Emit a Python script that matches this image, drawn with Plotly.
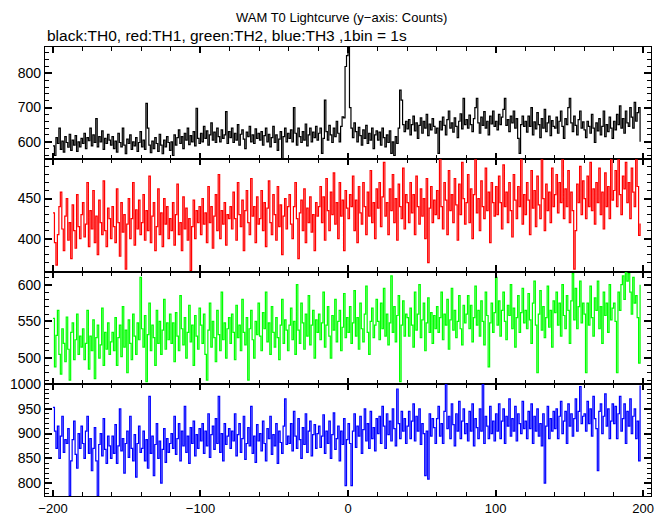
import plotly.graph_objects as go

# Counts per 1 s bin, time from -200 s
th0 = [
    588, 560, 612, 595, 640, 578, 602, 570, 615, 598, 584, 622, 575, 605, 590, 618, 572, 600, 585, 610,
    595, 625, 580, 612, 603, 640, 588, 620, 598, 668, 585, 615, 600, 632, 578, 610, 595, 622, 605, 590,
    615, 580, 602, 570, 625, 598, 585, 640, 590, 565, 608, 595, 620, 578, 600, 588, 612, 572, 598, 630,
    585, 605, 578, 712, 640, 590, 568, 602, 580, 612, 595, 572, 622, 590, 565, 605, 585, 615, 598, 575,
    600, 560, 620, 590, 612, 635, 595, 615, 580, 625, 605, 640, 592, 618, 600, 630, 588, 698, 610, 595,
    625, 600, 645, 610, 632, 590, 620, 655, 605, 628, 598, 640, 615, 600, 635, 610, 620, 688, 595, 630,
    612, 640, 598, 625, 605, 650, 590, 622, 635, 608, 580, 628, 615, 645, 600, 620, 595, 638, 610, 625,
    605, 630, 590, 618, 640, 600, 622, 585, 612, 645, 598, 620, 575, 608, 630, 550, 615, 640, 600, 625,
    610, 635, 600, 700, 625, 590, 640, 615, 598, 630, 605, 652, 588, 620, 640, 600, 628, 612, 645, 605,
    625, 640, 566, 610, 722, 630, 605, 648, 620, 598, 640, 615, 660, 625, 600, 645, 673, 670, 820, 852,
    890, 700, 640, 612, 655, 630, 600, 642, 618, 590, 635, 610, 648, 595, 625, 605, 640, 580, 620, 632,
    605, 628, 590, 640, 612, 585, 620, 598, 632, 566, 600, 560, 615, 595, 640, 751, 722, 650, 630, 660,
    638, 665, 620, 650, 675, 632, 655, 610, 648, 670, 625, 660, 640, 680, 618, 652, 635, 668, 645, 625,
    640, 566, 660, 635, 672, 648, 620, 665, 690, 640, 655, 628, 670, 645, 612, 660, 682, 638, 727, 650,
    665, 640, 678, 650, 630, 668, 700, 727, 655, 625, 672, 648, 688, 640, 660, 620, 675, 652, 690, 645,
    660, 635, 680, 650, 672, 695, 727, 648, 665, 630, 675, 655, 690, 640, 668, 610, 566, 650, 675, 645,
    660, 628, 675, 645, 700, 620, 658, 638, 685, 650, 612, 668, 640, 695, 630, 655, 675, 618, 662, 645,
    640, 672, 625, 660, 690, 645, 610, 668, 650, 700, 727, 655, 630, 675, 648, 620, 665, 690, 640, 658,
    635, 612, 660, 645, 625, 680, 640, 598, 655, 632, 668, 620, 645, 690, 615, 650, 630, 672, 640, 610,
    660, 635, 680, 650, 705, 640, 668, 625, 690, 655, 645, 700, 672, 640, 715, 660, 685, 700, 600,
]
th1 = [
    432, 395, 367, 405, 440, 458, 412, 385, 428, 450, 398, 420, 375, 442, 410, 388, 455, 415, 400, 430,
    445, 402, 418, 470, 390, 435, 412, 460, 395, 428, 380, 448, 420, 405, 472, 410, 390, 438, 425, 400,
    440, 415, 395, 462, 420, 378, 445, 408, 430, 362, 418, 450, 400, 425, 470, 392, 436, 412, 448, 405,
    420, 455, 398, 435, 410, 478, 395, 428, 445, 385, 415, 462, 405, 432, 390, 450, 418, 440, 400, 425,
    410, 445, 392, 430, 468, 405, 420, 385, 452, 412, 438, 398, 425, 360, 415, 448, 400, 435, 420, 440,
    405, 450, 418, 432, 395, 465, 420, 440, 388, 428, 455, 410, 480, 400, 435, 418, 445, 392, 430, 425,
    440, 412, 458, 425, 398, 470, 430, 415, 448, 385, 435, 460, 420, 405, 475, 428, 440, 395, 452, 418,
    425, 460, 410, 445, 390, 438, 472, 420, 405, 455, 430, 398, 465, 415, 442, 380, 428, 450, 412, 440,
    455, 418, 400, 440, 470, 425, 375, 432, 448, 410, 462, 395, 438, 420, 452, 408, 430, 385, 445, 428,
    440, 465, 420, 452, 398, 475, 435, 410, 458, 430, 482, 418, 445, 400, 470, 428, 448, 385, 460, 438,
    425, 455, 440, 478, 410, 448, 395, 465, 432, 418, 470, 440, 405, 458, 428, 485, 420, 445, 400, 462,
    438, 470, 415, 452, 495, 428, 445, 405, 462, 435, 480, 420, 450, 398, 468, 440, 425, 488, 412, 455,
    445, 420, 470, 432, 455, 405, 478, 440, 418, 462, 428, 450, 400, 475, 370, 438, 465, 420, 448, 430,
    460, 425, 499, 440, 412, 470, 448, 405, 485, 435, 455, 420, 475, 442, 398, 468, 430, 495, 450, 418,
    445, 480, 420, 462, 400, 455, 499, 432, 450, 410, 472, 440, 425, 488, 435, 458, 395, 470, 445, 428,
    465, 430, 478, 445, 412, 492, 440, 458, 420, 470, 435, 402, 480, 448, 425, 465, 440, 499, 418, 455,
    430, 470, 448, 405, 485, 438, 460, 415, 478, 442, 425, 499, 450, 410, 468, 435, 458, 420, 488, 440,
    455, 480, 432, 470, 445, 499, 425, 462, 440, 485, 420, 458, 435, 362, 410, 468, 445, 490, 430, 472,
    450, 425, 478, 440, 495, 435, 462, 418, 470, 445, 488, 430, 458, 412, 482, 440, 465, 425, 499, 448,
    460, 485, 440, 499, 455, 430, 478, 462, 495, 445, 470, 425, 488, 458, 440, 499, 465, 404, 419,
]
th2 = [
    554, 488, 531, 565, 505, 478, 540, 520, 495, 556, 512, 470, 535, 548, 498, 525, 560, 505, 530, 515,
    540, 498, 520, 565, 485, 530, 510, 552, 472, 528, 545, 500, 518, 568, 490, 535, 512, 548, 505, 522,
    535, 510, 555, 490, 528, 545, 502, 570, 515, 538, 480, 552, 520, 498, 560, 530, 505, 548, 525, 610,
    540, 515, 558, 468, 532, 575, 510, 545, 528, 490, 565, 520, 550, 505, 538, 580, 512, 548, 525, 560,
    520, 548, 495, 562, 530, 510, 585, 540, 518, 555, 500, 535, 572, 522, 545, 490, 558, 530, 512, 568,
    545, 520, 560, 505, 470, 538, 575, 515, 550, 528, 495, 565, 532, 510, 590, 525, 548, 500, 540, 555,
    520, 560, 535, 498, 572, 528, 545, 510, 580, 535, 518, 555, 470, 540, 565, 525, 500, 550, 532, 575,
    530, 510, 562, 540, 590, 522, 548, 505, 570, 535, 515, 555, 528, 498, 545, 580, 520, 552, 538, 510,
    545, 568, 525, 550, 505, 600, 538, 520, 575, 548, 512, 560, 530, 585, 518, 545, 565, 500, 552, 535,
    560, 525, 548, 590, 515, 545, 570, 530, 500, 558, 538, 580, 522, 550, 565, 510, 542, 588, 528, 555,
    535, 570, 520, 548, 592, 530, 555, 512, 575, 540, 522, 560, 598, 535, 505, 550, 568, 528, 545, 580,
    550, 525, 575, 540, 595, 530, 560, 518, 548, 612, 535, 570, 522, 558, 585, 468, 545, 578, 530, 560,
    555, 530, 568, 545, 515, 590, 538, 560, 600, 528, 552, 575, 510, 548, 582, 535, 562, 520, 558, 540,
    570, 535, 555, 590, 525, 560, 545, 580, 512, 552, 595, 538, 565, 528, 550, 585, 540, 518, 572, 548,
    560, 585, 540, 572, 522, 555, 598, 545, 565, 530, 578, 550, 518, 590, 558, 488, 548, 575, 535, 562,
    610, 545, 578, 530, 565, 590, 550, 525, 572, 558, 600, 540, 568, 515, 555, 585, 535, 562, 595, 548,
    565, 540, 588, 552, 520, 575, 605, 545, 480, 560, 592, 538, 570, 528, 555, 598, 542, 565, 515, 578,
    562, 590, 545, 575, 530, 600, 558, 540, 585, 565, 520, 578, 615, 552, 595, 540, 570, 605, 548, 575,
    560, 480, 575, 545, 598, 555, 530, 582, 565, 605, 540, 570, 520, 590, 558, 575, 535, 600, 552, 568,
    575, 550, 480, 590, 565, 600, 612, 580, 618, 605, 615, 590, 560, 610, 575, 585, 555, 493, 600,
]
th3 = [
    953, 905, 870, 915, 850, 895, 935, 862, 888, 880, 910, 775, 845, 888, 925, 858, 830, 900, 870, 915,
    880, 850, 905, 935, 860, 890, 825, 870, 912, 845, 774, 878, 900, 855, 930, 868, 840, 895, 875, 850,
    895, 860, 918, 840, 875, 950, 865, 890, 820, 880, 905, 852, 935, 870, 845, 898, 812, 880, 915, 862,
    870, 905, 845, 888, 830, 975, 860, 895, 815, 878, 920, 850, 885, 800, 868, 910, 842, 890, 862, 880,
    900, 870, 935, 858, 890, 920, 845, 905, 875, 955, 862, 895, 840, 912, 880, 925, 855, 898, 870, 910,
    885, 920, 860, 905, 875, 940, 852, 898, 915, 868, 930, 880, 975, 862, 900, 845, 920, 878, 895, 910,
    870, 905, 885, 940, 855, 898, 920, 862, 890, 935, 848, 880, 912, 875, 955, 860, 895, 842, 918, 885,
    900, 865, 925, 880, 845, 910, 890, 935, 858, 898, 875, 920, 840, 905, 882, 860, 915, 970, 878, 895,
    880, 920, 865, 945, 895, 870, 930, 888, 850, 912, 878, 940, 862, 905, 925, 855, 898, 918, 870, 900,
    915, 872, 895, 938, 860, 905, 880, 925, 850, 898, 942, 868, 890, 915, 845, 905, 878, 930, 795, 888,
    920, 880, 795, 905, 940, 872, 915, 895, 935, 860, 908, 950, 885, 920, 870, 945, 890, 912, 865, 930,
    900, 935, 880, 955, 915, 870, 940, 898, 925, 885, 950, 910, 875, 990, 920, 890, 945, 905, 930, 880,
    915, 945, 890, 925, 960, 885, 935, 905, 950, 878, 920, 900, 815, 905, 808, 940, 895, 930, 912, 880,
    930, 955, 895, 920, 880, 945, 1000, 910, 935, 890, 960, 918, 875, 940, 905, 965, 890, 925, 950, 900,
    920, 885, 945, 905, 960, 875, 930, 912, 890, 950, 905, 1000, 880, 935, 915, 890, 955, 900, 925, 885,
    940, 905, 960, 890, 925, 950, 880, 935, 915, 970, 895, 930, 905, 955, 885, 940, 920, 900, 965, 910,
    925, 890, 945, 910, 960, 880, 935, 905, 950, 895, 920, 875, 940, 800, 915, 955, 890, 930, 905, 945,
    910, 950, 890, 935, 965, 900, 925, 945, 880, 960, 915, 940, 895, 930, 970, 905, 945, 995, 920, 935,
    940, 905, 965, 920, 950, 895, 975, 930, 910, 825, 945, 960, 900, 935, 980, 915, 950, 890, 925, 960,
    920, 955, 890, 940, 975, 905, 930, 960, 880, 945, 915, 970, 900, 935, 950, 890, 925, 845, 997,
]

series = [th0, th1, th2, th3]
colors = ["#000000", "#ff0000", "#00ff00", "#0000ff"]
y_ranges = [[549, 877], [359, 499], [465, 618], [774, 1000.6]]
y_dticks = [100, 50, 50, 50]
y_minor = [20, 10, 10, 10]
x_range = [-205.4, 205.4]

FONT = "Liberation Sans, Arial, Helvetica, sans-serif"

fig = go.Figure()
n = len(series)
for i, vals in enumerate(series):
    t = [-200 + k for k in range(len(vals))]
    sfx = "" if i == 0 else str(i + 1)
    fig.add_trace(go.Scatter(
        x=t, y=vals, mode="lines", line=dict(color=colors[i], width=1.2, shape="hv"),
        xaxis="x" + sfx, yaxis="y" + sfx, showlegend=False, hoverinfo="skip",
    ))
    top = 1 - i / n
    bot = 1 - (i + 1) / n
    xa = dict(
        domain=[0, 1], range=x_range, anchor="y" + sfx,
        showline=True, linecolor="black", linewidth=1.2, mirror="ticks",
        ticks="inside", ticklen=6, tickwidth=1.5, tickcolor="black",
        dtick=100, tick0=0, showgrid=False, zeroline=False,
        showticklabels=(i == n - 1),
        tickfont=dict(family=FONT, size=13, color="black"),
        minor=dict(dtick=20, tick0=0, ticks="inside", ticklen=4, tickwidth=1, tickcolor="black", showgrid=False),
        automargin=False,
    )
    if i > 0:
        xa["matches"] = "x"
    ya = dict(
        domain=[bot, top], range=y_ranges[i], anchor="x" + sfx,
        showline=True, linecolor="black", linewidth=1.2, mirror="ticks",
        ticks="inside", ticklen=7, tickwidth=1.5, tickcolor="black",
        dtick=y_dticks[i], tick0=0, showgrid=False, zeroline=False,
        tickfont=dict(family=FONT, size=14, color="black"),
        minor=dict(dtick=y_minor[i], tick0=0, ticks="inside", ticklen=4, tickwidth=1, tickcolor="black", showgrid=False),
        automargin=False,
    )
    fig.layout["xaxis" + sfx] = xa
    fig.layout["yaxis" + sfx] = ya

# page body has an 8 px margin; the figure is sized to fill the rest of the window
OFF = 8
W, H = 669 - OFF, 515 - OFF
L, T = 45 - OFF, 47 - OFF
R = W - (651 - OFF)
B = H - (496 - OFF)
pw, ph = W - L - R, H - T - B

def px_to_paper(px, py):
    # px, py are page pixel positions
    return (px - OFF - L) / pw, (H - B - (py - OFF)) / ph

tx, ty = px_to_paper(341, 17)
sx, sy = px_to_paper(45, 35)
fig.add_annotation(text="WAM T0 Lightcurve (y\u2212axis: Counts)", x=tx, y=ty, xref="paper", yref="paper",
                   xanchor="center", yanchor="middle", showarrow=False,
                   font=dict(family=FONT, size=13, color="black"))
fig.add_annotation(text="black:TH0, red:TH1, green:TH2, blue:TH3 ,1bin = 1s", x=sx, y=sy,
                   xref="paper", yref="paper", xanchor="left", yanchor="middle", showarrow=False,
                   font=dict(family=FONT, size=15.5, color="black"))

fig.update_layout(
    width=W, height=H, margin=dict(l=L, r=R, t=T, b=B),
    paper_bgcolor="white", plot_bgcolor="white",
)
fig.write_html("out.html")
